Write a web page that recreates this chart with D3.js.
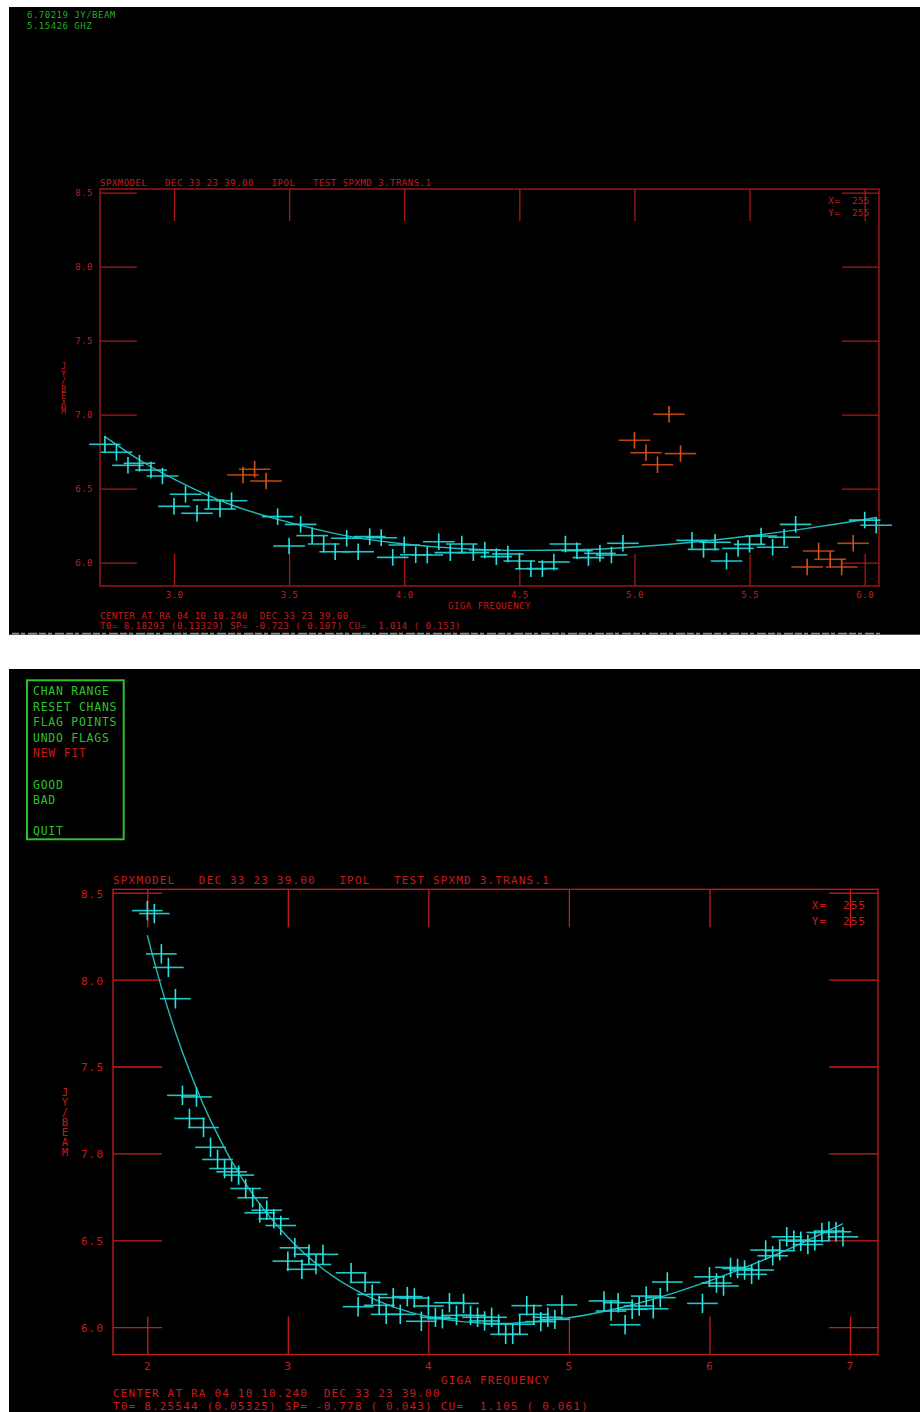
<!DOCTYPE html>
<html>
<head>
<meta charset="utf-8">
<script src="https://cdn.jsdelivr.net/npm/d3@7"></script>
<style>
    html, body { margin: 0; padding: 0; background: #fff; }
    svg { display: block; }
    text { font-family: "DejaVu Sans Mono", monospace; white-space: pre; }
</style>
</head>
<body>
<svg width="920" height="1412"></svg>
<script>
// ---- data ----
const yTickValues = [6.0, 6.5, 7.0, 7.5, 8.0, 8.5];
const topXTicks = [3.0, 3.5, 4.0, 4.5, 5.0, 5.5, 6.0];
const bottomXTicks = [2, 3, 4, 5, 6, 7];

// upper plot: good channels
const topFreq = [2.70, 2.75, 2.80, 2.85, 2.90, 2.95, 3.00, 3.05, 3.10, 3.15, 3.20, 3.25,
    3.45, 3.50, 3.55, 3.60, 3.65, 3.70, 3.75, 3.80, 3.85, 3.90, 3.95, 4.00, 4.05, 4.10,
    4.15, 4.20, 4.25, 4.30, 4.35, 4.40, 4.45, 4.50, 4.55, 4.60, 4.65, 4.70, 4.75, 4.80,
    4.85, 4.90, 4.95, 5.25, 5.30, 5.35, 5.40, 5.45, 5.50, 5.55, 5.60, 5.65, 5.70, 6.00, 6.05];
const topFlux = [6.800, 6.746, 6.658, 6.672, 6.626, 6.586, 6.381, 6.462, 6.334, 6.424, 6.363, 6.419,
    6.311, 6.113, 6.259, 6.183, 6.126, 6.074, 6.165, 6.074, 6.176, 6.169, 6.036, 6.120, 6.054, 6.052,
    6.142, 6.068, 6.126, 6.068, 6.086, 6.041, 6.059, 6.011, 5.959, 5.960, 6.005, 6.126, 6.081, 6.034,
    6.063, 6.052, 6.131, 6.151, 6.090, 6.138, 6.011, 6.097, 6.124, 6.180, 6.104, 6.172, 6.259, 6.288, 6.253];
// upper plot: flagged channels
const topFlagFreq = [3.30, 3.35, 3.40, 5.00, 5.05, 5.10, 5.15, 5.20, 5.75, 5.80, 5.85, 5.90, 5.95];
const topFlagFlux = [6.593, 6.631, 6.552, 6.827, 6.743, 6.662, 7.003, 6.737, 5.971, 6.079, 6.023, 5.971, 6.131];
// upper plot: fitted curve
const topCurveFreq = [2.70, 2.85, 3.00, 3.25, 3.50, 3.75, 4.00, 4.25, 4.50, 4.75, 5.00, 5.25, 5.50, 5.75, 6.00, 6.05];
const topCurveFlux = [6.852, 6.694, 6.565, 6.390, 6.272, 6.181, 6.126, 6.094, 6.083, 6.087, 6.106, 6.138, 6.180, 6.232, 6.292, 6.305];

// lower plot: good channels
const bottomFreq = [2.00, 2.05, 2.10, 2.15, 2.20, 2.25, 2.30, 2.35, 2.40, 2.45, 2.50, 2.55, 2.60, 2.65,
    2.70, 2.75, 2.80, 2.85, 2.90, 2.95, 3.00, 3.05, 3.10, 3.15, 3.20, 3.25, 3.45, 3.50, 3.55, 3.60,
    3.65, 3.70, 3.75, 3.80, 3.85, 3.90, 3.95, 4.00, 4.05, 4.10, 4.15, 4.20, 4.25, 4.30, 4.35, 4.40,
    4.45, 4.50, 4.55, 4.60, 4.65, 4.70, 4.75, 4.80, 4.85, 4.90, 4.95, 5.25, 5.30, 5.35, 5.40, 5.45,
    5.50, 5.55, 5.60, 5.65, 5.70, 5.95, 6.00, 6.05, 6.10, 6.15, 6.20, 6.25, 6.30, 6.35, 6.40, 6.45,
    6.50, 6.55, 6.60, 6.65, 6.70, 6.75, 6.80, 6.85, 6.90, 6.95];
const bottomFlux = [8.397, 8.380, 8.148, 8.070, 7.890, 7.334, 7.201, 7.325, 7.149, 7.035, 6.965, 6.913, 6.894, 6.875,
    6.798, 6.745, 6.658, 6.673, 6.624, 6.585, 6.380, 6.457, 6.333, 6.420, 6.361, 6.419, 6.313, 6.118, 6.258, 6.189,
    6.126, 6.074, 6.170, 6.074, 6.176, 6.168, 6.034, 6.122, 6.057, 6.049, 6.141, 6.068, 6.137, 6.068, 6.057, 6.036,
    6.057, 6.018, 5.959, 5.959, 6.017, 6.124, 6.074, 6.032, 6.057, 6.045, 6.128, 6.151, 6.093, 6.141, 6.014, 6.103,
    6.122, 6.179, 6.106, 6.170, 6.260, 6.137, 6.290, 6.254, 6.237, 6.344, 6.338, 6.329, 6.304, 6.329, 6.444, 6.411,
    6.440, 6.520, 6.501, 6.495, 6.476, 6.497, 6.545, 6.553, 6.549, 6.520];
// lower plot: fitted curve
const bottomCurveFreq = [2.00, 2.10, 2.20, 2.30, 2.40, 2.50, 2.60, 2.80, 3.00, 3.25, 3.50, 3.75, 4.00, 4.50, 4.75, 5.00, 5.50, 6.00, 6.50, 6.95];
const bottomCurveFlux = [8.255, 7.957, 7.699, 7.475, 7.279, 7.108, 6.956, 6.708, 6.518, 6.335, 6.206, 6.117, 6.061, 6.021, 6.032, 6.054, 6.139, 6.267, 6.427, 6.596];

const titleLine = "SPXMODEL   DEC 33 23 39.00   IPOL   TEST SPXMD 3.TRANS.1";
const centerLine = "CENTER AT RA 04 10 10.240  DEC 33 23 39.00";
const topFitLine = "T0= 8.18293 (0.13329) SP= -0.723 ( 0.107) CU=  1.014 ( 0.153)";
const bottomFitLine = "T0= 8.25544 (0.05325) SP= -0.778 ( 0.043) CU=  1.105 ( 0.061)";
const menuItems = ["CHAN RANGE", "RESET CHANS", "FLAG POINTS", "UNDO FLAGS", "NEW FIT", "", "GOOD", "BAD", "", "QUIT"];

const RED = "#c81c1c";
const RED_DARK = "#a81818";
const GREEN = "#2fc02f";

const svg = d3.select("svg");
svg.append("rect").attr("x", 9).attr("y", 7).attr("width", 911).attr("height", 627.7).attr("fill", "#000");
svg.append("rect").attr("x", 9).attr("y", 669).attr("width", 911).attr("height", 743).attr("fill", "#000");
// leftover grey scanline at bottom of upper screen
svg.append("line").attr("x1", 12).attr("x2", 880).attr("y1", 633.6).attr("y2", 633.6)
    .attr("stroke", "#8c8c8c").attr("stroke-width", 1.8).attr("stroke-dasharray", "7 2 4 3 9 2");

function drawPanel(p) {
    const g = svg.append("g");
    const x = d3.scaleLinear().domain(p.xDomain).range(p.xRange);
    const y = d3.scaleLinear().domain([6.0, 8.5]).range(p.yRange);
    const txt = (s, tx, ty, anchor) => g.append("text")
        .attr("x", tx).attr("y", ty)
        .attr("fill", RED)
        .attr("font-size", p.font)
        .attr("letter-spacing", p.ls)
        .attr("text-anchor", anchor || "start")
        .text(s);

    // frame
    g.append("rect")
        .attr("x", p.left).attr("y", p.top)
        .attr("width", p.right - p.left).attr("height", p.bottom - p.top)
        .attr("fill", "none").attr("stroke", p.frameColor).attr("stroke-width", 1.3);

    const styleAxis = (a) => {
        a.select(".domain").remove();
        a.selectAll("line").attr("stroke", p.tickColor).attr("stroke-width", 1.3);
        a.selectAll("text")
            .attr("fill", RED)
            .attr("font-family", "DejaVu Sans Mono, monospace")
            .attr("font-size", p.font)
            .attr("letter-spacing", p.ls);
    };

    g.append("g").attr("transform", `translate(0,${p.bottom})`)
        .call(d3.axisBottom(x).tickValues(p.xTicks).tickSize(-p.xTickLen).tickSizeOuter(0)
            .tickPadding(p.xPad).tickFormat(p.xFormat))
        .call(styleAxis);
    g.append("g").attr("transform", `translate(0,${p.top})`)
        .call(d3.axisTop(x).tickValues(p.xTicks).tickSize(-p.xTickLen).tickSizeOuter(0).tickFormat(""))
        .call(styleAxis);
    g.append("g").attr("transform", `translate(${p.left},0)`)
        .call(d3.axisLeft(y).tickValues(yTickValues).tickSize(-p.yTickLen).tickSizeOuter(0)
            .tickPadding(p.yPad).tickFormat(d3.format(".1f")))
        .call(styleAxis)
        .call(a => a.selectAll("text").attr("dy", p.yDy));
    g.append("g").attr("transform", `translate(${p.right},0)`)
        .call(d3.axisRight(y).tickValues(yTickValues).tickSize(-p.yTickLen).tickSizeOuter(0).tickFormat(""))
        .call(styleAxis);

    // fitted curve
    const line = d3.line()
        .x((d, i) => x(p.curveFreq[i]))
        .y((d) => y(d))
        .curve(d3.curveMonotoneX);
    g.append("path")
        .attr("d", line(p.curveFlux))
        .attr("fill", "none")
        .attr("stroke", "#1fbcbc")
        .attr("stroke-width", 1.4);

    // crosses: channel width horizontally, error vertically
    function crosses(freq, flux, hColor, vColor) {
        const pts = freq.map((f, i) => ({ f: f, v: flux[i] }));
        const c = g.append("g");
        c.selectAll("line.h").data(pts).join("line")
            .attr("class", "h")
            .attr("x1", d => x(d.f - p.halfWidth)).attr("x2", d => x(d.f + p.halfWidth))
            .attr("y1", d => y(d.v)).attr("y2", d => y(d.v))
            .attr("stroke", hColor).attr("stroke-width", 1.6);
        c.selectAll("line.v").data(pts).join("line")
            .attr("class", "v")
            .attr("x1", d => x(d.f)).attr("x2", d => x(d.f))
            .attr("y1", d => y(d.v - p.err)).attr("y2", d => y(d.v + p.err))
            .attr("stroke", vColor).attr("stroke-width", 1.6);
    }
    crosses(p.freq, p.flux, "#1cc8c8", "#2ae2e2");
    if (p.flagFreq) crosses(p.flagFreq, p.flagFlux, "#b84412", "#cf5416");

    // labels
    txt(titleLine, p.left, p.titleY);
    txt("GIGA FREQUENCY", (p.left + p.right) / 2, p.xTitleY, "middle");
    txt(centerLine, p.left, p.centerY);
    txt(p.fitLine, p.left, p.fitY);
    txt("X=  255", p.xyX, p.xyY);
    txt("Y=  255", p.xyX, p.xyY + p.xyStep);

    // stacked upright letters of the y title, one text element
    g.append("text")
        .attr("fill", RED)
        .attr("font-size", p.yTitleFont)
        .attr("text-anchor", "middle")
        .selectAll("tspan").data("JY/BEAM".split("")).join("tspan")
        .attr("x", p.yTitleX)
        .attr("y", (d, i) => p.yTitleY + i * p.yTitleStep)
        .text(d => d);
}

// upper screen
drawPanel({
    left: 100, right: 879, top: 189, bottom: 586,
    xDomain: [3.0, 6.0], xRange: [174, 864.7],
    yRange: [562.7, 192.7],
    xTicks: topXTicks, xFormat: d3.format(".1f"),
    xTickLen: 32, yTickLen: 37, xPad: 5.3, yPad: 7, yDy: "0.36em",
    font: 9, ls: 0.5,
    frameColor: "#b01a1a", tickColor: RED_DARK,
    freq: topFreq, flux: topFlux, flagFreq: topFlagFreq, flagFlux: topFlagFlux,
    curveFreq: topCurveFreq, curveFlux: topCurveFlux,
    halfWidth: 0.0686, err: 0.056,
    titleY: 185.7, xTitleY: 608.7, centerY: 619, fitY: 628.7, fitLine: topFitLine,
    xyX: 828.3, xyY: 204.3, xyStep: 12,
    yTitleX: 63.5, yTitleY: 369, yTitleStep: 7.5, yTitleFont: 8.5
});

// lower screen
drawPanel({
    left: 113, right: 878, top: 889.3, bottom: 1354.5,
    xDomain: [2, 7], xRange: [147.3, 850],
    yRange: [1327.2, 892.7],
    xTicks: bottomXTicks, xFormat: d3.format("d"),
    xTickLen: 38, yTickLen: 49, xPad: 7.7, yPad: 8.7, yDy: "0.4em",
    font: 11, ls: 1.18,
    frameColor: "#c41c1c", tickColor: RED,
    freq: bottomFreq, flux: bottomFlux,
    curveFreq: bottomCurveFreq, curveFlux: bottomCurveFlux,
    halfWidth: 0.109, err: 0.056,
    titleY: 884.3, xTitleY: 1384, centerY: 1396.7, fitY: 1410, fitLine: bottomFitLine,
    xyX: 811.7, xyY: 909.3, xyStep: 15.7,
    yTitleX: 65, yTitleY: 1096, yTitleStep: 10, yTitleFont: 10.5
});

// cursor readout, upper left
svg.append("text").attr("x", 27).attr("y", 18.3).attr("fill", "#22b022")
    .attr("font-size", 9).attr("letter-spacing", 0.5).text("6.70219 JY/BEAM");
svg.append("text").attr("x", 27).attr("y", 29).attr("fill", "#22b022")
    .attr("font-size", 9).attr("letter-spacing", 0.5).text("5.15426 GHZ");

// menu box
svg.append("rect").attr("x", 27).attr("y", 680.3).attr("width", 96.7).attr("height", 159)
    .attr("fill", "none").attr("stroke", GREEN).attr("stroke-width", 2);
svg.append("g").selectAll("text").data(menuItems.filter(d => d !== "")).join("text")
    .attr("x", 33).attr("y", d => 695 + menuItems.indexOf(d) * 15.6)
    .attr("fill", d => d === "NEW FIT" ? "#cc1a1a" : GREEN)
    .attr("font-size", 11.4).attr("letter-spacing", 0.8)
    .text(d => d);
</script>
</body>
</html>
